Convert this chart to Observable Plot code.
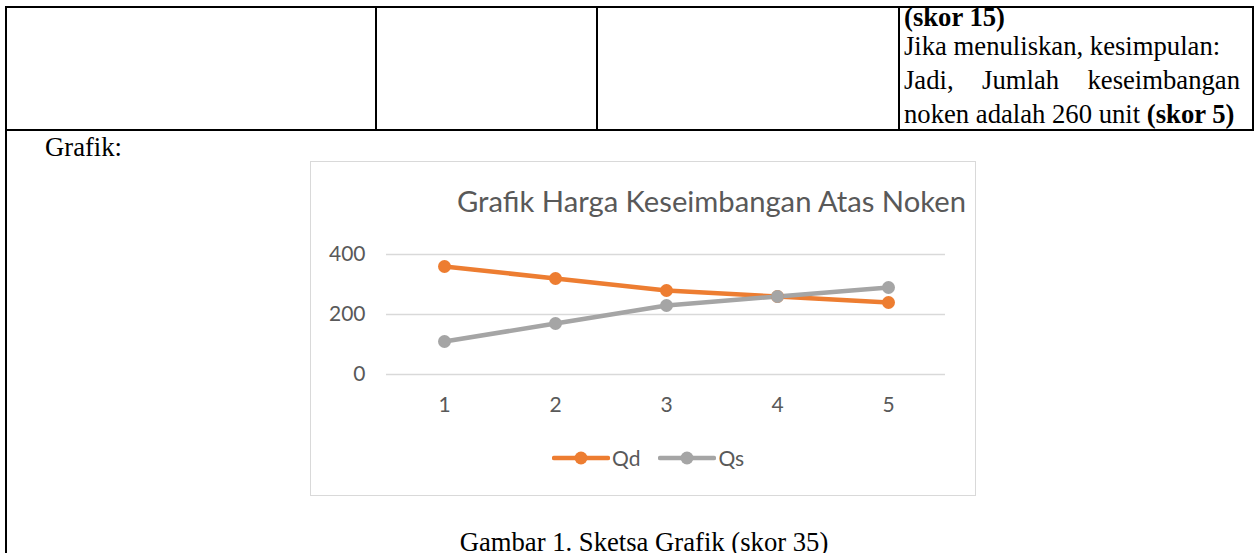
<!DOCTYPE html>
<html>
<head>
<meta charset="utf-8">
<script src="https://cdn.jsdelivr.net/npm/d3@7"></script>
<script src="https://cdn.jsdelivr.net/npm/@observablehq/plot@0.6"></script>
<style>
  html, body { margin: 0; padding: 0; background: #fff; width: 1255px; height: 553px; overflow: hidden; }
  .abs { position: absolute; }
  .hl { position: absolute; height: 2px; background: #000; }
  .vl { position: absolute; width: 2px; background: #000; }
  .serif { font-family: "Liberation Serif", "Times New Roman", serif; font-size: 26.67px; line-height: 30.67px; color: #000; white-space: nowrap; }
  .ln { position: absolute; left: 904px; width: 336px; height: 30.67px; }
  .just { text-align: justify; text-align-last: justify; }
  #box { position: absolute; left: 310px; top: 161px; width: 664px; height: 333px; border: 1px solid #D9D9D9; }
  #chart { position: absolute; left: 0; top: 0; }
  .calibri { font-family: Lato, "Open Sans", sans-serif; color: #595959; }
  #title { position: absolute; left: 0; width: 664px; top: 21px; text-align: center; font-size: 29.2px; padding-left: 137px; box-sizing: border-box; white-space: nowrap; }
  #legend { position: absolute; top: 283px; left: 241px; font-size: 21px; display: flex; align-items: center; white-space: nowrap; }
  #legend .item { display: flex; align-items: center; margin-right: 18px; }
  #legend svg { display: block; margin-right: 2px; }
</style>
</head>
<body>
<!-- table lines -->
<div class="hl" style="left:5px; top:6px; width:1249px;"></div>
<div class="hl" style="left:5px; top:129px; width:1249px;"></div>
<div class="vl" style="left:5px; top:6px; height:547px;"></div>
<div class="vl" style="left:375px; top:6px; height:125px;"></div>
<div class="vl" style="left:596px; top:6px; height:125px;"></div>
<div class="vl" style="left:898px; top:6px; height:125px;"></div>
<div class="vl" style="left:1252px; top:6px; height:125px;"></div>

<div class="serif ln" style="top:2px;"><b>(skor 15)</b></div>
<div class="serif ln" style="top:31px;">Jika menuliskan, kesimpulan:</div>
<div class="serif ln just" style="top:65px;">Jadi, Jumlah keseimbangan</div>
<div class="serif ln" style="top:99px;">noken adalah 260 unit <b>(skor 5)</b></div>

<div class="serif abs" style="left:45px; top:132px;">Grafik:</div>

<div id="box">
  <div id="chart"></div>
  <div id="title" class="calibri">Grafik Harga Keseimbangan Atas Noken</div>
  <div id="legend" class="calibri"></div>
</div>

<div class="serif abs" style="left:0; width:1288px; text-align:center; top:527px;">Gambar 1. Sketsa Grafik (skor 35)</div>

<script>
// ---- data ----
const periods = [1, 2, 3, 4, 5];
const qd = [360, 320, 280, 260, 240];
const qs = [110, 170, 230, 260, 290];
const seriesNames = ["Qd", "Qs"];
const seriesColors = ["#ED7D31", "#A5A5A5"];
const yTicks = [0, 200, 400];

const rows = [];
periods.forEach((p, i) => rows.push({period: p, value: qd[i], series: "Qd"}));
periods.forEach((p, i) => rows.push({period: p, value: qs[i], series: "Qs"}));

const W = 664, H = 333;
const chart = Plot.plot({
  width: W,
  height: H,
  marginLeft: 75,
  marginRight: 30,
  marginTop: 92,
  marginBottom: 121,
  style: { fontFamily: "Lato, 'Open Sans', sans-serif", fontSize: "21px", color: "#595959", background: "transparent", overflow: "visible" },
  x: { type: "point", domain: periods, padding: 0.5, label: null },
  y: { domain: [0, 400], ticks: yTicks, label: null },
  color: { domain: seriesNames, range: seriesColors },
  marks: [
    Plot.ruleY(yTicks, { stroke: "#D9D9D9", strokeWidth: 1.5 }),
    Plot.axisY({ ticks: yTicks, tickSize: 0, tickPadding: 21, fontSize: 21, fill: "#595959", label: null }),
    Plot.axisX({ tickSize: 0, tickPadding: 23, fontSize: 21, fill: "#595959", label: null }),
    Plot.line(rows, { x: "period", y: "value", z: "series", stroke: "series", strokeWidth: 4.5, strokeLinecap: "round", strokeLinejoin: "round" }),
    Plot.dot(rows, { x: "period", y: "value", fill: "series", r: 6.5 })
  ]
});
document.getElementById("chart").appendChild(chart);

// legend
const legend = document.getElementById("legend");
seriesNames.forEach((name, i) => {
  const item = document.createElement("div");
  item.className = "item";
  item.innerHTML = `<svg width="58" height="14"><line x1="2" y1="7" x2="56" y2="7" stroke="${seriesColors[i]}" stroke-width="4.5" stroke-linecap="round"/><circle cx="29" cy="7" r="6.5" fill="${seriesColors[i]}"/></svg><span>${name}</span>`;
  legend.appendChild(item);
});
</script>
</body>
</html>
